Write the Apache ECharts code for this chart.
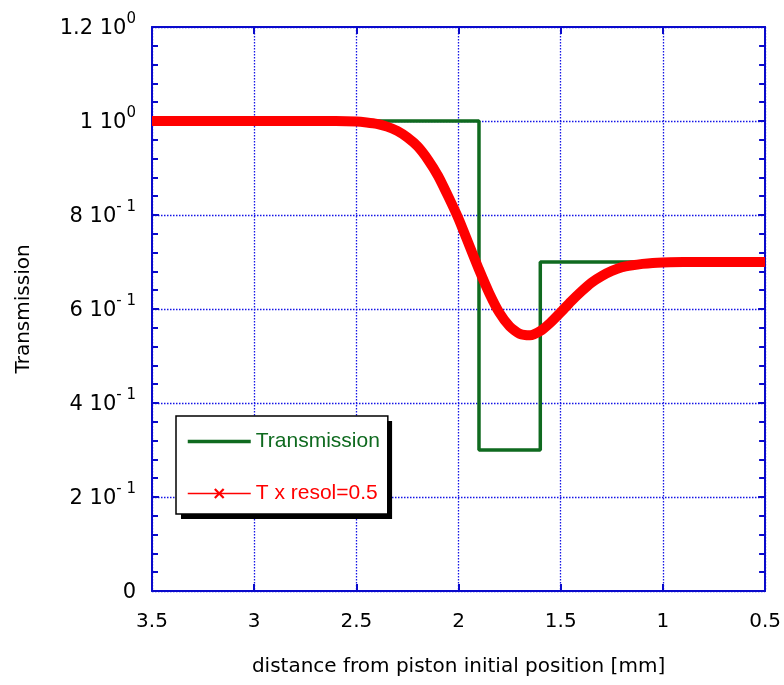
<!DOCTYPE html>
<html>
<head>
<meta charset="utf-8">
<script src="https://cdn.jsdelivr.net/npm/echarts@6/dist/echarts.min.js"></script>
<style>
html, body { margin: 0; padding: 0; background: #fff; }
#chart_f1 { width: 784px; height: 685px; }
</style>
</head>
<body>
<div id="chart_f1"></div>
<script>
// step transmission profile
var stepX = [3.5, 1.9, 1.9, 1.6, 1.6, 0.5];
var stepY = [1, 1, 0.3, 0.3, 0.7, 0.7];

// transmission seen with resolution 0.5
var resolX = [3.5, 3.0, 2.6, 2.5, 2.45, 2.4, 2.35, 2.3, 2.25, 2.2, 2.15, 2.1, 2.05, 2.0, 1.95, 1.9, 1.85, 1.8,
              1.75, 1.7, 1.65, 1.6, 1.55, 1.5, 1.45, 1.4, 1.35, 1.3, 1.25, 1.2, 1.15, 1.1, 1.05, 1.0, 0.9, 0.5];
var resolY = [1.0, 1.0, 1.0, 0.999, 0.997, 0.994, 0.988, 0.979, 0.965, 0.946, 0.918, 0.883, 0.839, 0.792, 0.738, 0.684, 0.634, 0.592,
              0.563, 0.547, 0.544, 0.553, 0.571, 0.593, 0.616, 0.637, 0.656, 0.670, 0.681, 0.689, 0.693, 0.696, 0.698, 0.699, 0.7, 0.7];

// y tick labels: mantissa + exponent
var yTickVal = [0, 0.2, 0.4, 0.6, 0.8, 1, 1.2];
var yTickMant = ['0', '2 10', '4 10', '6 10', '8 10', '1 10', '1.2 10'];
var yTickExp = ['', '- 1', '- 1', '- 1', '- 1', '0', '0'];

var blue = '#0a0acc';
var gridBlue = '#1414e6';
var green = '#0f6a1f';
var red = '#ff0000';
var xMark = 'path://M0,1.5L1.5,0L5,3.5L8.5,0L10,1.5L6.5,5L10,8.5L8.5,10L5,6.5L1.5,10L0,8.5L3.5,5Z';

var myChart_f1 = echarts.init(document.getElementById('chart_f1'));

function yLabel(v) {
    for (var i = 0; i < yTickVal.length; i++) {
        if (Math.abs(v - yTickVal[i]) < 1e-6) {
            if (yTickExp[i] === '') return '{m|' + yTickMant[i] + '}';
            return '{m|' + yTickMant[i] + '}{s|' + yTickExp[i] + '}';
        }
    }
    return '';
}

// legend layout shared by the shadow box and the real legend
function legendBase() {
    return {
        left: 176,
        top: 416,
        orient: 'vertical',
        itemWidth: 63,
        itemHeight: 13,
        itemGap: 31,
        padding: [15, 8, 10, 10],
        borderRadius: 0,
        textStyle: { fontFamily: 'Liberation Sans', fontSize: 21 }
    };
}

var legendShadow = legendBase();
legendShadow.backgroundColor = '#fff';
legendShadow.borderWidth = 0;
legendShadow.shadowColor = '#000';
legendShadow.shadowBlur = 0;
legendShadow.shadowOffsetX = 5;
legendShadow.shadowOffsetY = 5;
legendShadow.selectedMode = false;
legendShadow.itemStyle = { opacity: 0 };
legendShadow.lineStyle = { opacity: 0 };
legendShadow.data = [
    { name: 'Transmission', textStyle: { color: 'rgba(0,0,0,0)' } },
    { name: 'T x resol=0.5', textStyle: { color: 'rgba(0,0,0,0)' } }
];

var legendMain = legendBase();
legendMain.backgroundColor = 'rgba(0,0,0,0)';
legendMain.borderColor = '#000';
legendMain.borderWidth = 1.5;
legendMain.data = [
    { name: 'Transmission', textStyle: { color: green }, lineStyle: { width: 3.5 }, itemStyle: { opacity: 0 } },
    { name: 'T x resol=0.5', textStyle: { color: red }, lineStyle: { width: 1.5 }, itemStyle: { color: red } }
];

var option = {
    animation: false,
    backgroundColor: '#fff',
    grid: { left: 152, right: 18, top: 27, bottom: 94 },
    legend: [legendShadow, legendMain],
    xAxis: [{
        type: 'value',
        min: 0.5, max: 3.5, interval: 0.5,
        inverse: true,
        name: 'distance from piston initial position [mm]',
        nameLocation: 'middle',
        nameGap: 66,
        nameTextStyle: { fontFamily: 'DejaVu Sans', fontSize: 20, color: '#000' },
        axisLine: { show: true, onZero: false, lineStyle: { color: blue, width: 2 } },
        axisTick: { show: true, inside: true, length: 7, lineStyle: { color: blue, width: 2 } },
        axisLabel: { margin: 21, fontFamily: 'DejaVu Sans', fontSize: 20, color: '#000' },
        splitLine: { show: true, lineStyle: { color: gridBlue, type: [1.5, 1.5], width: 1.3 } }
    }, {
        type: 'value',
        position: 'top',
        min: 0.5, max: 3.5, interval: 0.5,
        inverse: true,
        axisLine: { show: true, onZero: false, lineStyle: { color: blue, width: 2 } },
        axisTick: { show: true, inside: true, length: 7, lineStyle: { color: blue, width: 2 } },
        axisLabel: { show: false },
        splitLine: { show: false }
    }],
    yAxis: [{
        type: 'value',
        min: 0, max: 1.2, interval: 0.2,
        name: 'Transmission',
        nameLocation: 'middle',
        nameGap: 118,
        nameTextStyle: { fontFamily: 'DejaVu Sans', fontSize: 20, color: '#000' },
        axisLine: { show: true, onZero: false, lineStyle: { color: blue, width: 2 } },
        axisTick: { show: true, inside: true, length: 7, lineStyle: { color: blue, width: 2 } },
        minorTick: { show: true, splitNumber: 5, length: 6, lineStyle: { color: blue, width: 2 } },
        axisLabel: {
            margin: 16,
            padding: [4, 0, 0, 0],
            formatter: yLabel,
            rich: {
                m: { fontFamily: 'DejaVu Sans', fontSize: 21, color: '#000', lineHeight: 34 },
                s: { fontFamily: 'DejaVu Sans', fontSize: 15, color: '#000', verticalAlign: 'top', lineHeight: 15 }
            }
        },
        splitLine: { show: true, lineStyle: { color: gridBlue, type: [1.5, 1.5], width: 1.3 } }
    }, {
        type: 'value',
        position: 'right',
        min: 0, max: 1.2, interval: 0.2,
        axisLine: { show: true, onZero: false, lineStyle: { color: blue, width: 2 } },
        axisTick: { show: true, inside: true, length: 7, lineStyle: { color: blue, width: 2 } },
        minorTick: { show: true, splitNumber: 5, length: 6, lineStyle: { color: blue, width: 2 } },
        axisLabel: { show: false },
        splitLine: { show: false }
    }],
    series: [{
        name: 'Transmission',
        type: 'line',
        symbol: 'none',
        lineStyle: { color: green, width: 3.5 },
        itemStyle: { color: green },
        data: stepX.map(function (x, i) { return [x, stepY[i]]; })
    }, {
        name: 'T x resol=0.5',
        type: 'line',
        symbol: xMark,
        symbolSize: 9,
        showSymbol: false,
        smooth: 0.2,
        lineStyle: { color: red, width: 10 },
        itemStyle: { color: red },
        data: resolX.map(function (x, i) { return [x, resolY[i]]; })
    }]
};

myChart_f1.setOption(option);
</script>
</body>
</html>
